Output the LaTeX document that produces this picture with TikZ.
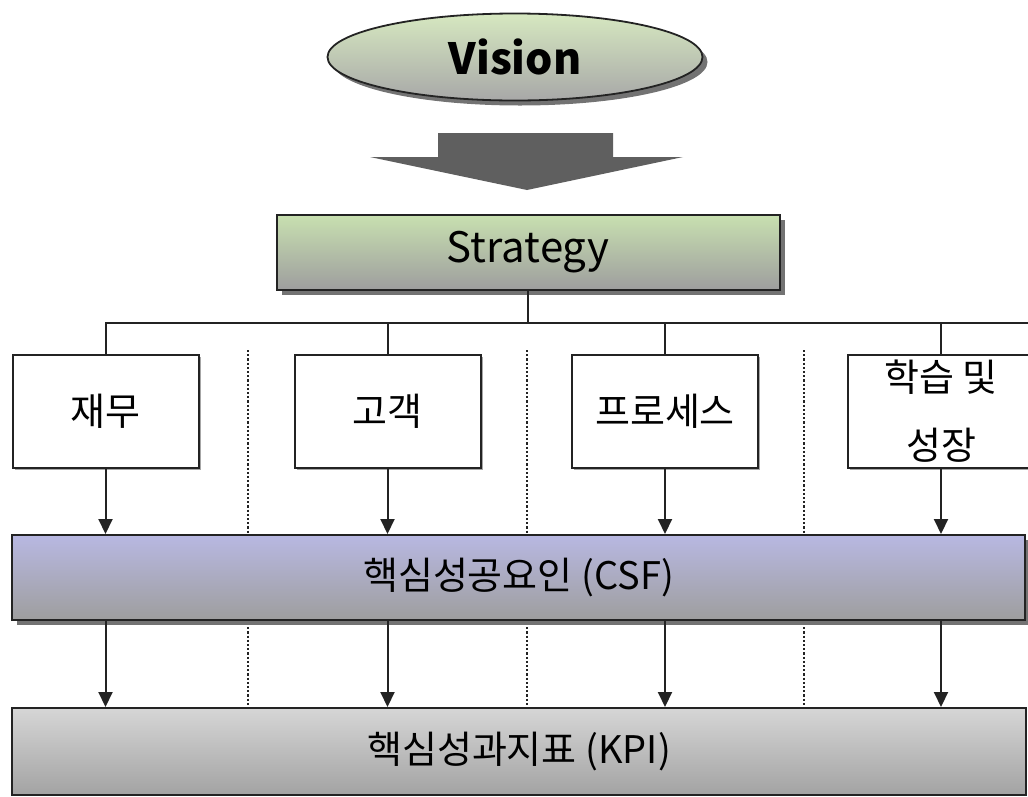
\documentclass[tikz,border=0pt]{standalone}
\usepackage{fontspec}
\setmainfont{Noto Sans CJK KR}
\usetikzlibrary{arrows.meta, shapes.geometric, shadows}
\definecolor{visiongreen}{RGB}{214,232,192}
\definecolor{stratgreen}{RGB}{200,224,176}
\definecolor{csfblue}{RGB}{184,184,226}
\definecolor{kpigray}{RGB}{214,214,214}
\definecolor{basegray}{RGB}{158,158,158}
\definecolor{linegray}{RGB}{35,35,35}
\definecolor{bigarrow}{RGB}{95,95,95}

\begin{document}
\begin{tikzpicture}[x=1pt, y=-1pt,
        shade/.style={
            drop shadow={shadow xshift=5pt, shadow yshift=-5pt, fill=black!55, opacity=1}
          },
        goal/.style={
            ellipse,
            draw=linegray,
            line width=1.8pt,
            top color=visiongreen,
            bottom color=basegray!90,
            inner sep=0pt,
            minimum width=375pt,
            minimum height=87pt,
            font=\fontsize{43}{48}\selectfont\bfseries
          },
        bar/.style={
            draw=linegray,
            line width=2pt,
            inner sep=0pt,
            font=\fontsize{38}{44}\selectfont
          },
        persp/.style={
            draw=linegray,
            fill=white,
            line width=2pt,
            inner sep=0pt,
            minimum width=186pt,
            minimum height=113pt,
            align=center,
            font=\fontsize{38}{68}\selectfont,
            drop shadow={shadow xshift=2pt, shadow yshift=-2pt, fill=black!35, opacity=1}
          },
        sep/.style={linegray, line width=2.6pt, dash pattern=on 2.2pt off 2pt},
        link/.style={linegray, line width=2pt},
        arr/.style={-{Triangle[width=14pt, length=15pt]}, linegray, line width=2pt}
      ]
      \useasboundingbox (0,0) rectangle (1028,796);

      \foreach \x in {248, 527, 804}
        \draw[sep] (\x,350) -- (\x,708);

      \node[goal, shade] (vision) at (515,57) {Vision};
      \fill[bigarrow] (438,133) -- (613,133) -- (613,157) -- (683,157) -- (527,190)
        -- (370,157) -- (438,157) -- cycle;

      \node[bar, shade, top color=stratgreen, bottom color=basegray,
        minimum width=503pt, minimum height=75pt, font=\fontsize{42}{48}\selectfont] (strategy) at (528,252) {Strategy};

      \node[persp] (finance) at (105.5,411.5) {재무};
      \node[persp] (customer) at (387.5,411.5) {고객};
      \node[persp] (process) at (665,411.5) {프로세스};
      \node[persp] (learning) at (941,411.5) {학습 및\\성장};

      \coordinate (hub) at (528,323);
      \coordinate (bus_end) at (1028,323);
      \draw[link] (strategy.south) -- (hub);
      \draw[link] (hub) -| (finance.north);
      \draw[link] (hub) -| (customer.north);
      \draw[link] (hub) -| (process.north);
      \draw[link] (hub) -| (learning.north);
      \draw[link] (hub) -- (bus_end);

      \node[bar, shade, top color=csfblue, bottom color=basegray,
        minimum width=1013pt, minimum height=85pt] (csf) at (518.5,577.5) {핵심성공요인 (CSF)};
      \node[bar, top color=kpigray, bottom color=basegray!95,
        minimum width=1014pt, minimum height=87pt] (kpi) at (519,751.5) {핵심성과지표 (KPI)};

      \foreach \b in {finance, customer, process, learning} {
        \draw[arr] (\b.south) -- (\b.south |- csf.north);
        \draw[arr] (\b.south |- csf.south) -- (\b.south |- kpi.north);
      }
    \end{tikzpicture}
\end{document}
